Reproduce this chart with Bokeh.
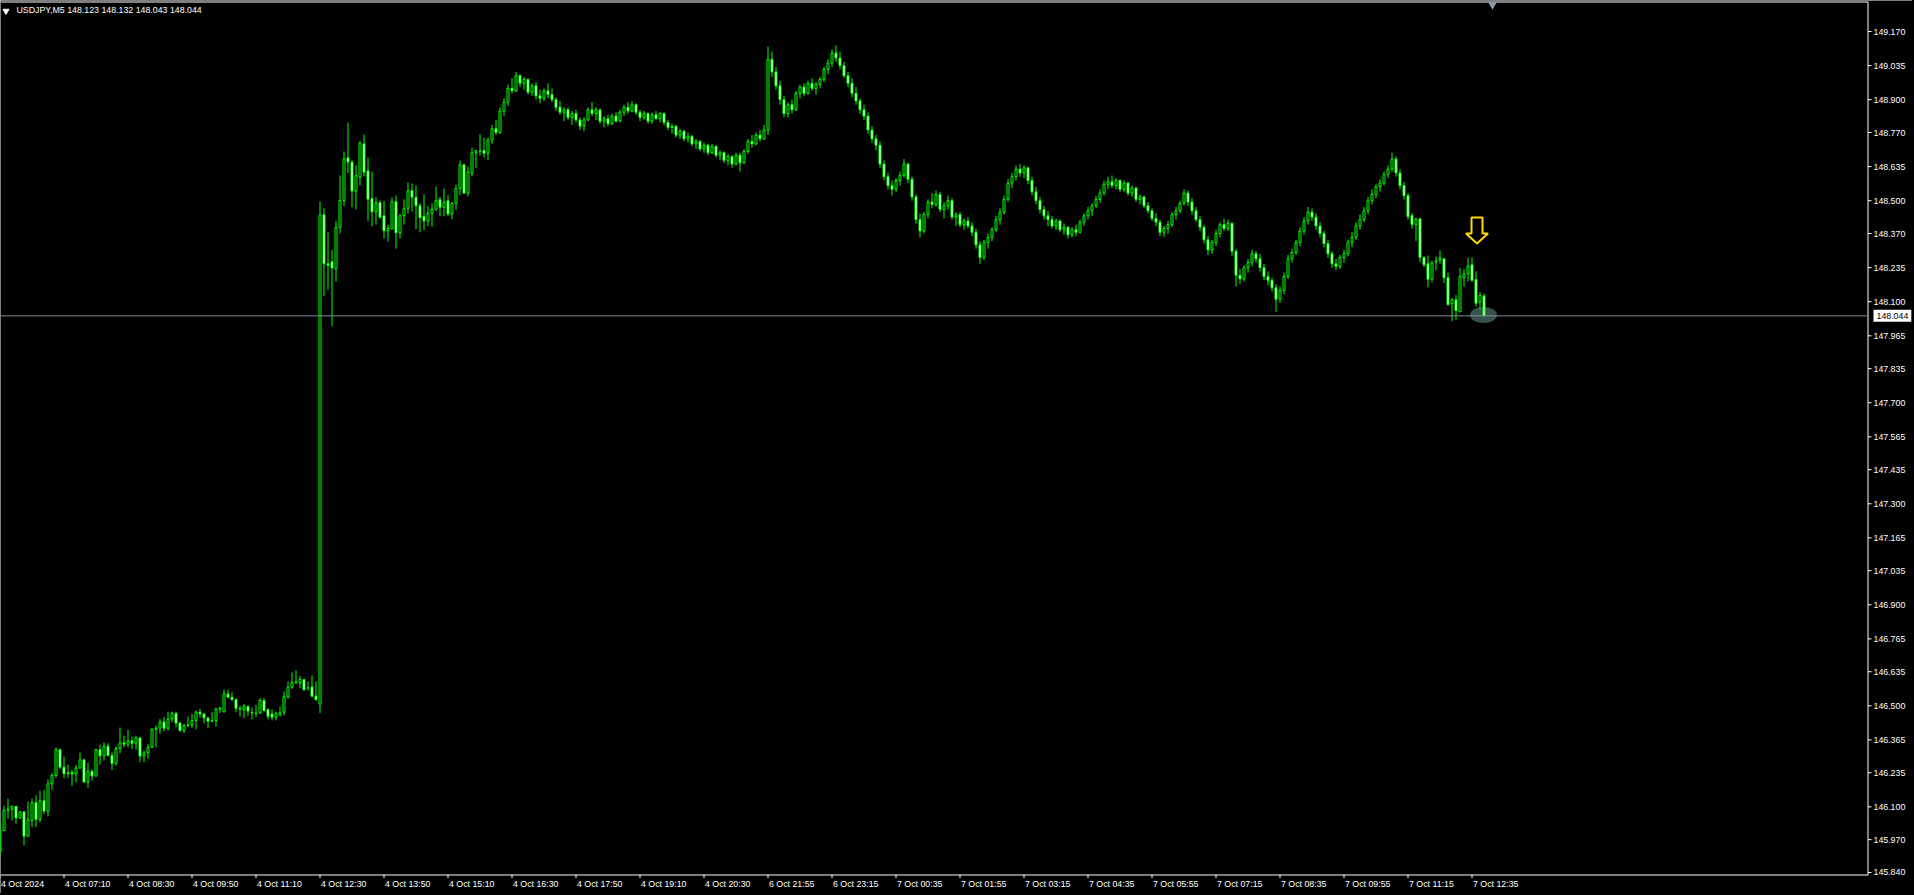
from bokeh.plotting import figure
from bokeh.models import Range1d, Label, ColumnDataSource
from bokeh.embed import file_html
from bokeh.resources import INLINE

SYMBOL = "USDJPY,M5"

opens = [
145.920,146.006,146.086,146.090,146.102,146.056,146.080,145.984,146.046,146.117,
146.050,146.124,146.083,146.191,146.224,146.326,146.257,146.231,146.236,146.230,
146.254,146.286,146.198,146.241,146.222,146.326,146.302,146.340,146.303,146.272,
146.331,146.353,146.348,146.361,146.352,146.373,146.301,146.314,146.336,146.407,
146.412,146.436,146.411,146.448,146.470,146.432,146.402,146.422,146.424,146.442,
146.475,146.468,146.452,146.439,146.441,146.487,146.476,146.547,146.534,146.524,
146.490,146.484,146.497,146.474,146.471,146.472,146.521,146.485,146.468,146.455,
146.463,146.475,146.534,146.574,146.592,146.591,146.604,146.570,146.574,146.539,
146.507,148.444,148.250,148.258,148.230,148.394,148.501,148.670,148.653,148.538,
148.594,148.725,148.618,148.508,148.456,148.492,148.440,148.381,148.388,148.496,
148.373,148.440,148.470,148.540,148.514,148.480,148.438,148.420,148.450,148.466,
148.505,148.474,148.500,148.447,148.489,148.548,148.642,148.530,148.609,148.690,
148.696,148.698,148.688,
148.741,148.785,148.770,148.855,148.890,148.945,148.935,148.995,148.965,148.980,
148.930,148.955,148.915,148.905,148.935,148.920,148.900,148.870,148.850,148.860,
148.830,148.845,148.820,148.795,148.820,148.860,148.845,148.860,148.815,148.825,
148.805,148.835,148.815,148.850,148.870,148.855,148.880,148.850,148.830,148.845,
148.815,148.840,148.825,148.845,148.810,148.790,148.795,148.760,148.775,148.745,
148.755,148.725,148.735,148.705,148.720,148.690,148.715,148.680,148.690,148.660,
148.675,148.645,148.680,148.650,148.695,148.735,148.725,148.760,148.745,148.780,
149.060,149.010,148.955,148.900,148.845,148.880,148.860,148.925,148.950,148.925,
148.965,148.945,148.960,148.980,149.020,149.045,149.085,149.065,149.035,148.995,
148.965,148.925,148.895,148.860,148.835,148.780,148.745,148.720,148.645,148.595,
148.560,148.545,148.580,148.600,148.645,148.585,148.515,148.425,148.380,148.445,
148.495,148.485,148.525,148.465,148.480,148.500,148.435,148.445,148.405,148.420,
148.400,148.375,148.325,148.275,148.335,148.355,148.385,148.425,148.455,148.505,
148.570,148.595,148.625,148.610,148.630,148.580,148.535,148.500,148.465,148.440,
148.425,148.400,148.420,148.385,148.395,148.365,148.385,148.375,148.415,148.440,
148.460,148.480,148.505,148.530,148.565,148.575,148.560,148.580,148.545,148.570,
148.530,148.550,148.505,148.515,148.480,148.460,148.430,148.415,148.375,148.390,
148.405,148.445,148.460,148.490,148.530,148.495,148.460,148.425,148.395,148.345,
148.305,148.335,148.370,148.405,148.390,148.410,148.300,148.205,148.190,148.235,
148.255,148.290,148.270,148.235,148.200,148.185,148.155,148.110,148.145,148.200,
148.270,148.295,148.335,148.380,148.420,148.455,148.435,148.400,148.370,148.330,
148.290,148.250,148.240,148.275,148.290,148.335,148.355,148.400,148.425,148.460,
148.500,148.525,148.555,148.570,148.605,148.625,148.665,148.610,148.560,148.520,
148.441,148.406,148.428,148.276,148.250,148.189,148.258,148.266,148.270,148.195,
148.092,148.108,148.060,148.195,148.210,148.246,148.188,148.098,148.123]

highs = [
146.040,146.105,146.132,146.105,146.105,146.083,146.083,146.121,146.132,146.145,
146.164,146.167,146.208,146.235,146.336,146.330,146.299,146.267,146.246,146.265,
146.315,146.290,146.274,146.248,146.330,146.347,146.355,146.352,146.316,146.339,
146.414,146.382,146.405,146.378,146.381,146.375,146.323,146.347,146.412,146.422,
146.448,146.456,146.477,146.477,146.477,146.435,146.429,146.458,146.468,146.481,
146.488,146.471,146.455,146.476,146.492,146.495,146.564,146.564,146.553,146.531,
146.500,146.508,146.502,146.492,146.504,146.531,146.531,146.490,146.485,146.477,
146.497,146.557,146.596,146.632,146.640,146.619,146.606,146.596,146.620,146.596,
148.497,148.470,148.375,148.305,148.420,148.600,148.695,148.810,148.660,148.640,
148.735,148.762,148.670,148.615,148.514,148.502,148.500,148.405,148.514,148.520,
148.448,148.505,148.572,148.568,148.560,148.490,148.525,148.478,148.490,148.555,
148.515,148.548,148.522,148.494,148.563,148.659,148.646,148.636,148.710,148.699,
148.763,148.750,148.750,
148.800,148.820,148.870,148.905,148.960,148.985,149.010,149.000,148.990,148.985,
148.965,148.970,148.940,148.945,148.965,148.945,148.910,148.895,148.870,148.870,
148.855,148.860,148.830,148.830,148.870,148.890,148.870,148.865,148.835,148.840,
148.845,148.850,148.860,148.880,148.890,148.895,148.885,148.860,148.855,148.850,
148.850,148.855,148.850,148.850,148.820,148.805,148.800,148.785,148.780,148.770,
148.760,148.745,148.740,148.730,148.725,148.725,148.720,148.700,148.695,148.685,
148.680,148.690,148.690,148.705,148.745,148.760,148.770,148.780,148.800,149.110,
149.090,149.030,148.975,148.915,148.890,148.900,148.935,148.960,148.965,148.975,
148.985,148.970,148.990,149.030,149.060,149.100,149.115,149.090,149.050,149.010,
148.985,148.950,148.905,148.880,148.850,148.795,148.760,148.735,148.660,148.610,
148.580,148.590,148.615,148.665,148.650,148.595,148.525,148.450,148.455,148.505,
148.530,148.540,148.535,148.495,148.520,148.510,148.455,148.455,148.430,148.435,
148.415,148.390,148.340,148.345,148.370,148.395,148.440,148.470,148.520,148.585,
148.610,148.640,148.645,148.640,148.635,148.595,148.555,148.515,148.480,148.460,
148.440,148.430,148.425,148.410,148.400,148.395,148.405,148.425,148.450,148.475,
148.490,148.520,148.545,148.580,148.595,148.600,148.590,148.585,148.580,148.575,
148.560,148.555,148.525,148.520,148.495,148.470,148.450,148.425,148.400,148.420,
148.455,148.475,148.500,148.545,148.540,148.510,148.475,148.440,148.405,148.360,
148.345,148.385,148.415,148.430,148.425,148.415,148.310,148.230,148.245,148.270,
148.305,148.300,148.290,148.250,148.220,148.195,148.170,148.160,148.215,148.285,
148.310,148.345,148.395,148.435,148.475,148.470,148.450,148.415,148.380,148.345,
148.300,148.270,148.285,148.305,148.345,148.375,148.415,148.445,148.475,148.515,
148.545,148.565,148.585,148.615,148.640,148.690,148.675,148.625,148.575,148.530,
148.452,148.432,148.432,148.276,148.283,148.263,148.279,148.303,148.274,148.215,
148.115,148.127,148.234,148.230,148.274,148.276,148.220,148.138,148.132]

lows = [
145.910,146.006,146.052,146.046,146.033,146.052,145.947,145.980,146.019,146.019,
146.039,146.072,146.062,146.167,146.215,146.250,146.213,146.215,146.184,146.197,
146.250,146.196,146.175,146.204,146.220,146.267,146.283,146.300,146.246,146.264,
146.312,146.336,146.336,146.329,146.327,146.277,146.277,146.291,146.333,146.336,
146.389,146.399,146.402,146.435,146.415,146.398,146.392,146.415,146.411,146.407,
146.452,146.431,146.411,146.435,146.418,146.471,146.474,146.531,146.521,146.475,
146.458,146.451,146.461,146.446,146.455,146.468,146.477,146.446,146.442,146.442,
146.459,146.462,146.528,146.567,146.587,146.571,146.561,146.561,146.534,146.521,
146.471,148.122,148.148,148.003,148.180,148.370,148.480,148.610,148.474,148.465,
148.560,148.596,148.420,148.398,148.405,148.428,148.350,148.338,148.388,148.310,
148.350,148.405,148.448,148.457,148.388,148.375,148.384,148.400,148.397,148.460,
148.438,148.438,148.440,148.427,148.464,148.522,148.530,148.517,148.596,148.630,
148.678,148.670,148.660,
148.725,148.760,148.765,148.835,148.875,148.925,148.930,148.950,148.940,148.920,
148.915,148.900,148.885,148.895,148.905,148.890,148.855,148.840,148.815,148.820,
148.800,148.810,148.780,148.775,148.815,148.835,148.820,148.805,148.790,148.795,
148.800,148.810,148.810,148.835,148.845,148.850,148.840,148.815,148.820,148.805,
148.805,148.820,148.810,148.800,148.780,148.765,148.750,148.745,148.735,148.730,
148.715,148.705,148.695,148.690,148.680,148.685,148.670,148.660,148.650,148.640,
148.630,148.640,148.615,148.645,148.685,148.710,148.720,148.735,148.740,148.760,
148.990,148.940,148.880,148.830,148.830,148.845,148.855,148.905,148.915,148.920,
148.935,148.920,148.945,148.970,149.000,149.030,149.050,149.020,148.985,148.950,
148.910,148.880,148.845,148.820,148.765,148.730,148.700,148.630,148.580,148.545,
148.520,148.535,148.560,148.590,148.570,148.500,148.410,148.355,148.370,148.430,
148.470,148.475,148.455,148.430,148.465,148.425,148.400,148.395,148.385,148.390,
148.360,148.310,148.250,148.265,148.310,148.340,148.375,148.405,148.445,148.495,
148.550,148.580,148.595,148.590,148.565,148.520,148.485,148.450,148.425,148.400,
148.390,148.385,148.375,148.365,148.350,148.355,148.360,148.370,148.400,148.425,
148.440,148.470,148.490,148.520,148.545,148.550,148.545,148.535,148.535,148.520,
148.515,148.495,148.485,148.470,148.450,148.420,148.400,148.360,148.355,148.370,
148.395,148.425,148.450,148.480,148.480,148.445,148.415,148.380,148.330,148.285,
148.290,148.320,148.355,148.380,148.380,148.280,148.160,148.170,148.180,148.215,
148.240,148.255,148.220,148.185,148.165,148.140,148.060,148.095,148.130,148.190,
148.255,148.285,148.320,148.365,148.405,148.420,148.385,148.355,148.315,148.275,
148.235,148.225,148.230,148.255,148.280,148.315,148.345,148.385,148.415,148.445,
148.485,148.510,148.535,148.560,148.590,148.615,148.595,148.545,148.505,148.425,
148.389,148.340,148.256,148.237,148.157,148.177,148.224,148.250,148.174,148.085,
148.023,148.028,148.060,148.160,148.181,148.180,148.081,148.072,148.043]

closes = [
146.010,146.086,146.090,146.102,146.056,146.080,145.984,146.048,146.117,146.050,
146.124,146.083,146.191,146.224,146.326,146.257,146.231,146.236,146.230,146.254,
146.286,146.198,146.241,146.222,146.326,146.302,146.340,146.303,146.272,146.331,
146.353,146.348,146.361,146.352,146.373,146.301,146.314,146.336,146.407,146.412,
146.436,146.411,146.448,146.470,146.432,146.402,146.422,146.424,146.442,146.475,
146.468,146.452,146.439,146.441,146.487,146.492,146.547,146.534,146.524,146.490,
146.487,146.500,146.479,146.472,146.470,146.521,146.481,146.459,146.455,146.468,
146.472,146.536,146.575,146.592,146.595,146.604,146.563,146.571,146.538,146.524,
148.444,148.250,148.244,148.234,148.394,148.501,148.666,148.653,148.538,148.599,
148.730,148.613,148.506,148.456,148.492,148.435,148.381,148.390,148.496,148.373,
148.440,148.468,148.540,148.514,148.480,148.433,148.420,148.450,148.466,148.500,
148.474,148.494,148.447,148.489,148.548,148.642,148.530,148.613,148.690,148.698,
148.696,148.688,148.741,
148.785,148.770,148.855,148.890,148.945,148.935,148.995,148.965,148.980,148.930,
148.955,148.915,148.905,148.935,148.920,148.900,148.870,148.850,148.860,148.830,
148.845,148.820,148.795,148.820,148.860,148.845,148.860,148.815,148.825,148.805,
148.835,148.815,148.850,148.870,148.855,148.880,148.850,148.830,148.845,148.815,
148.840,148.825,148.845,148.810,148.790,148.795,148.760,148.775,148.745,148.755,
148.725,148.735,148.705,148.720,148.690,148.715,148.680,148.690,148.660,148.675,
148.645,148.680,148.650,148.695,148.735,148.725,148.760,148.745,148.780,149.060,
149.010,148.955,148.900,148.845,148.880,148.860,148.925,148.950,148.925,148.965,
148.945,148.960,148.980,149.020,149.045,149.085,149.065,149.035,148.995,148.965,
148.925,148.895,148.860,148.835,148.780,148.745,148.720,148.645,148.595,148.560,
148.545,148.580,148.600,148.645,148.585,148.515,148.425,148.380,148.445,148.495,
148.485,148.525,148.465,148.480,148.500,148.435,148.445,148.405,148.420,148.400,
148.375,148.325,148.275,148.335,148.355,148.385,148.425,148.455,148.505,148.570,
148.595,148.625,148.610,148.630,148.580,148.535,148.500,148.465,148.440,148.425,
148.400,148.420,148.385,148.395,148.365,148.385,148.375,148.415,148.440,148.460,
148.480,148.505,148.530,148.565,148.575,148.560,148.580,148.545,148.570,148.530,
148.550,148.505,148.515,148.480,148.460,148.430,148.415,148.375,148.390,148.405,
148.445,148.460,148.490,148.530,148.495,148.460,148.425,148.395,148.345,148.305,
148.335,148.370,148.405,148.390,148.410,148.300,148.205,148.190,148.235,148.255,
148.290,148.270,148.235,148.200,148.185,148.155,148.110,148.145,148.200,148.270,
148.295,148.335,148.380,148.420,148.455,148.435,148.400,148.370,148.330,148.290,
148.250,148.240,148.275,148.290,148.335,148.355,148.400,148.425,148.460,148.500,
148.525,148.555,148.570,148.605,148.625,148.665,148.610,148.560,148.520,148.437,
148.406,148.428,148.276,148.246,148.189,148.253,148.262,148.274,148.195,148.088,
148.108,148.065,148.200,148.210,148.241,148.184,148.094,148.125,148.044]

time_tick_bars = [0, 16, 32, 48, 64, 80, 96, 112, 128, 144, 160, 176, 192,
                  208, 224, 240, 256, 272, 288, 304, 320, 336, 352, 368]
time_tick_labels = ["4 Oct 2024", "4 Oct 07:10", "4 Oct 08:30", "4 Oct 09:50",
                    "4 Oct 11:10", "4 Oct 12:30", "4 Oct 13:50", "4 Oct 15:10",
                    "4 Oct 16:30", "4 Oct 17:50", "4 Oct 19:10", "4 Oct 20:30",
                    "6 Oct 21:55", "6 Oct 23:15", "7 Oct 00:35", "7 Oct 01:55",
                    "7 Oct 03:15", "7 Oct 04:35", "7 Oct 05:55", "7 Oct 07:15",
                    "7 Oct 08:35", "7 Oct 09:55", "7 Oct 11:15", "7 Oct 12:35"]
price_ticks = [149.170, 149.035, 148.900, 148.770, 148.635, 148.500, 148.370,
               148.235, 148.100, 147.965, 147.835, 147.700, 147.565, 147.435,
               147.300, 147.165, 147.035, 146.900, 146.765, 146.635, 146.500,
               146.365, 146.235, 146.100, 145.970, 145.840]

assert len(opens) == len(highs) == len(lows) == len(closes)
n = len(closes)
bars = list(range(n))

# ---- geometry: canvas pixels <-> data ----
GREEN = "#00FF00"
FONT = "Liberation Sans"
FS = "8.8px"
PX_PER_BAR = 4.0
PRICE_PER_PX = 0.0039596
CANVAS_W, CANVAS_H = 1912, 893
AXIS_X, AXIS_Y, TOP_Y = 1867, 874, 1     # chart window edges (pixel rows/cols)
X_START = 0.125                           # bar value at canvas x = 0


def dx(px):      # canvas x -> bar coordinate
    return X_START + px / PX_PER_BAR


def dy(py):      # canvas y -> price coordinate
    return 149.170 - (py - 31) * PRICE_PER_PX


p = figure(frame_width=CANVAS_W, frame_height=CANVAS_H,
           x_range=Range1d(dx(0), dx(CANVAS_W)), y_range=Range1d(dy(CANVAS_H), dy(0)),
           output_backend="svg", toolbar_location=None,
           background_fill_color="black", border_fill_color="black",
           min_border=0, outline_line_color=None,
           x_axis_location=None, y_axis_location=None)
p.styles = {"box-shadow": "0 0 0 40px #000000"}
p.grid.visible = False

# ---- chart window frame: top border, right price axis, bottom time axis ----
ax_x = dx(AXIS_X + 0.5)
p.segment(x0=[dx(0)], y0=[dy(TOP_Y + 0.5)], x1=[ax_x], y1=[dy(TOP_Y + 0.5)],
          line_color="white", line_width=1)
p.segment(x0=[ax_x], y0=[dy(TOP_Y + 0.5)], x1=[ax_x], y1=[dy(AXIS_Y + 0.5)],
          line_color="white", line_width=1)
p.segment(x0=[dx(0)], y0=[dy(AXIS_Y + 0.5)], x1=[ax_x], y1=[dy(AXIS_Y + 0.5)],
          line_color="white", line_width=1)

# price axis ticks + labels
p.segment(x0=[ax_x] * len(price_ticks), y0=price_ticks,
          x1=[dx(AXIS_X + 4)] * len(price_ticks), y1=price_ticks,
          line_color="white", line_width=1)
for v in price_ticks:
    p.add_layout(Label(x=dx(1873), y=v, text=f"{v:.3f}", text_align="left",
                       text_baseline="middle", text_color="white",
                       text_font=FONT, text_font_size=FS))

# time axis ticks + labels (left-aligned at the tick, MT4 style)
p.segment(x0=time_tick_bars, y0=[dy(AXIS_Y + 0.5)] * len(time_tick_bars),
          x1=time_tick_bars, y1=[dy(AXIS_Y + 3.5)] * len(time_tick_bars),
          line_color="white", line_width=1)
for b, t in zip(time_tick_bars, time_tick_labels):
    p.add_layout(Label(x=b, y=dy(883.4), text=t, x_offset=1,
                       text_align="left", text_baseline="middle",
                       text_color="white", text_font=FONT, text_font_size=FS))

# ---- ellipse marker at the last bar ----
p.ellipse(x=[dx(1483)], y=[dy(314.5)], width=27, height=16,
          width_units="screen", height_units="screen",
          fill_color="#37514f", line_color=None)

# ---- candles ----
inc = [c >= o for o, c in zip(opens, closes)]
src = ColumnDataSource(dict(
    x=bars, h=highs, l=lows,
    top=[max(o, c) for o, c in zip(opens, closes)],
    bottom=[min(o, c) for o, c in zip(opens, closes)],
    fill=["black" if i else "white" for i in inc]))
p.segment(x0="x", y0="h", x1="x", y1="l", source=src, line_color=GREEN, line_width=1)
p.vbar(x="x", width=0.5, top="top", bottom="bottom", fill_color="fill",
       line_color=GREEN, line_width=1, source=src)

# ---- current price line and price box ----
last = closes[-1]
p.segment(x0=[dx(0)], y0=[last], x1=[ax_x], y1=[last], line_color="#7f8c9a", line_width=1)
p.add_layout(Label(x=dx(1873), y=last, text=f"{last:.3f}", text_align="left",
                   text_baseline="middle", text_color="black", text_font=FONT,
                   text_font_size=FS, background_fill_color="white", padding=3))

# ---- hollow yellow down arrow (tip at canvas 1476, 243) ----
tip_x, tip_y = dx(1476.5), dy(243)
shape = [(0, 0), (-11, -10), (-5.5, -10), (-5.5, -26), (5.5, -26), (5.5, -10), (11, -10)]
p.patch([tip_x + sx / PX_PER_BAR for sx, sy in shape],
        [tip_y - sy * PRICE_PER_PX for sx, sy in shape],
        fill_color="black", line_color="#FFD800", line_width=2)

# ---- header ----
p.scatter(x=[dx(5.5)], y=[dy(10.5)], marker="inverted_triangle", size=6,
          fill_color="white", line_color="white")
p.add_layout(Label(x=dx(16), y=dy(9.3), text=
                   f"{SYMBOL}  {opens[-1]:.3f} {highs[-1]:.3f} {lows[-1]:.3f} {closes[-1]:.3f}",
                   text_align="left", text_baseline="middle", text_color="white",
                   text_font=FONT, text_font_size=FS))
# chart-shift marker on the top border
p.scatter(x=[dx(1492)], y=[dy(4)], marker="inverted_triangle", size=9,
          fill_color="#8a96a3", line_color=None)

open("out.html", "w").write(file_html(p, INLINE))
